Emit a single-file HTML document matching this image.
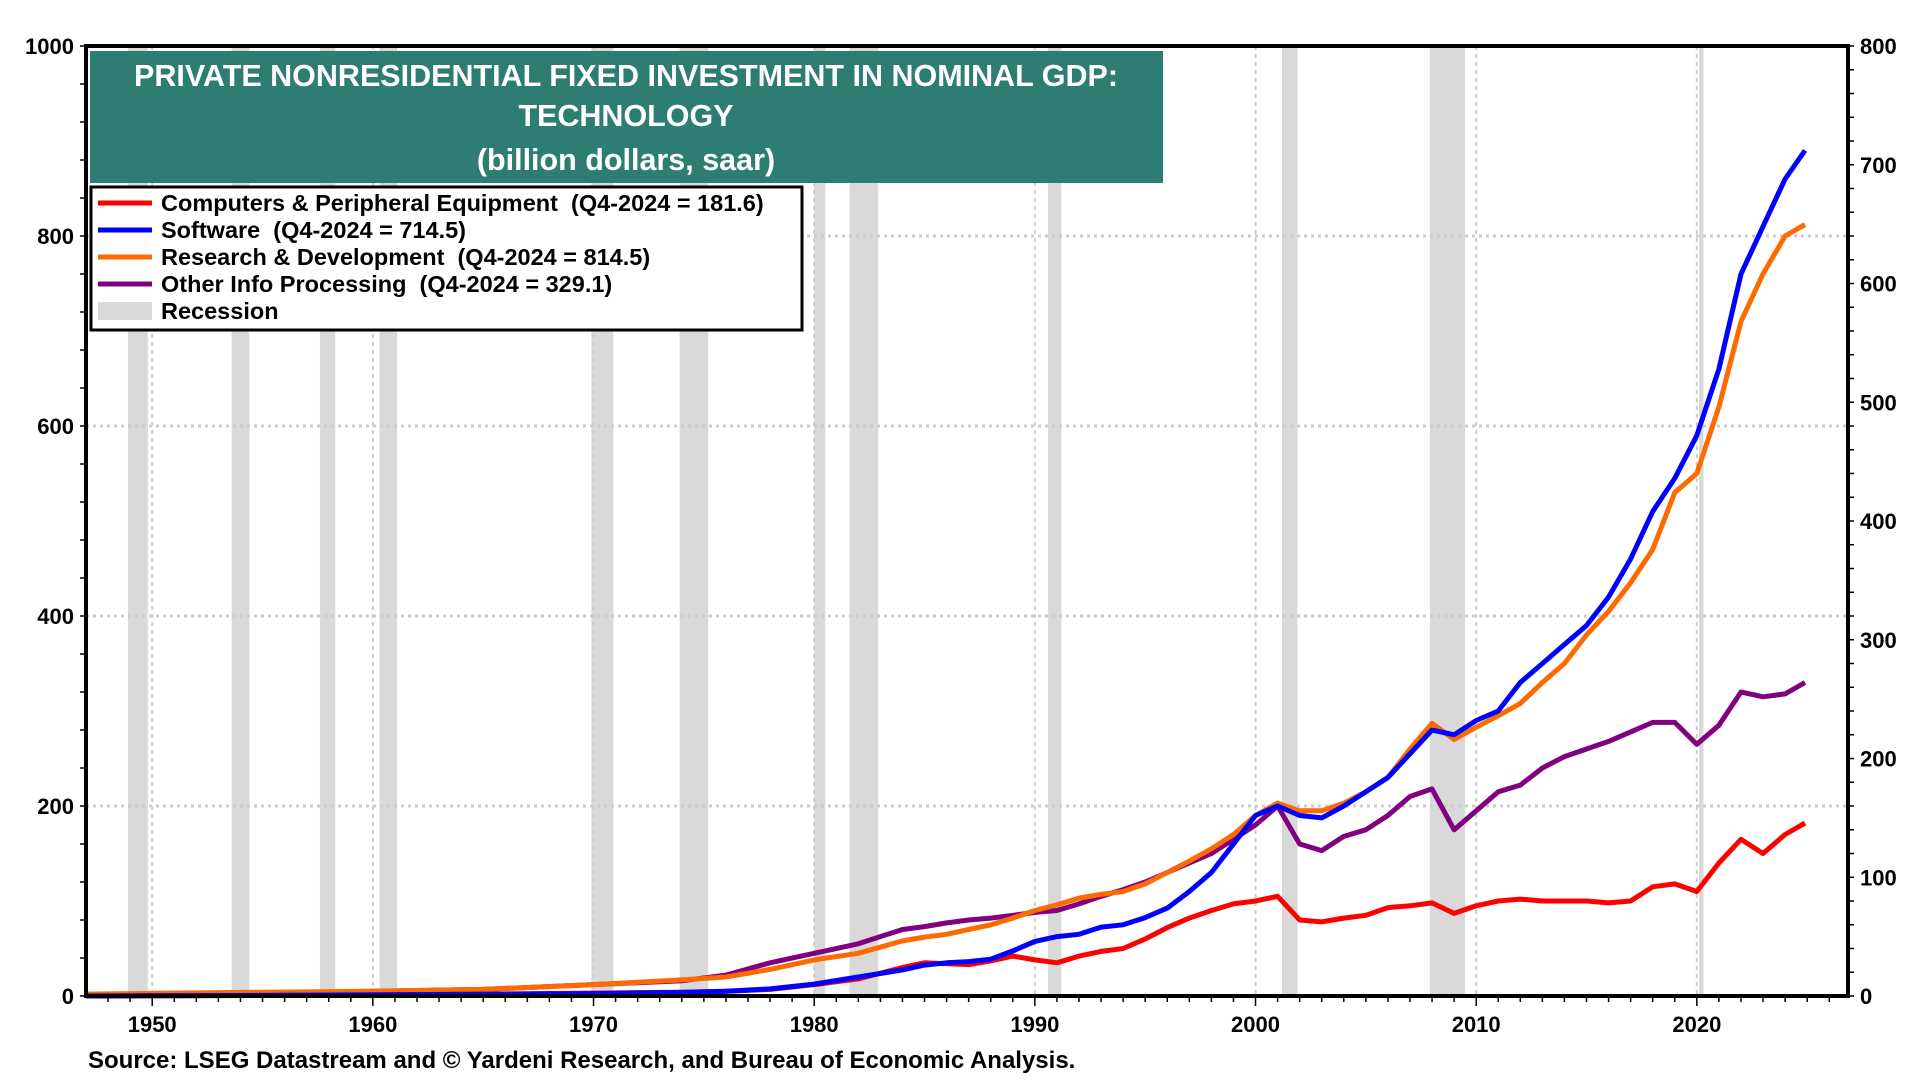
<!DOCTYPE html>
<html><head><meta charset="utf-8">
<style>
html,body{margin:0;padding:0;background:#fff;}
svg{display:block;font-family:"Liberation Sans",Arial,sans-serif;font-weight:bold;}
</style></head>
<body>
<svg id="chart" width="1920" height="1080" viewBox="0 0 1920 1080">
<g id="rec"></g>
<g id="grid"></g>
<g id="series"></g>
<g id="axes"></g>
<g>
<rect x="90" y="51" width="1073" height="132" fill="#2e7d72"/>
<text x="626" y="86" text-anchor="middle" fill="#fff" font-size="30.5">PRIVATE NONRESIDENTIAL FIXED INVESTMENT IN NOMINAL GDP:</text>
<text x="626" y="126" text-anchor="middle" fill="#fff" font-size="30.5">TECHNOLOGY</text>
<text x="626" y="170" text-anchor="middle" fill="#fff" font-size="30.5">(billion dollars, saar)</text>
</g>
<g>
<rect x="91" y="187" width="711" height="143" fill="#fff" stroke="#000" stroke-width="3"/>
<line x1="98" x2="152" y1="203" y2="203" stroke="#ff0000" stroke-width="5"/>
<text x="161" y="211" font-size="23.5">Computers &amp; Peripheral Equipment&#160;&#160;(Q4-2024 = 181.6)</text>
<line x1="98" x2="152" y1="230" y2="230" stroke="#0000ff" stroke-width="5"/>
<text x="161" y="238" font-size="23.5">Software&#160;&#160;(Q4-2024 = 714.5)</text>
<line x1="98" x2="152" y1="257" y2="257" stroke="#ff6a00" stroke-width="5"/>
<text x="161" y="265" font-size="23.5">Research &amp; Development&#160;&#160;(Q4-2024 = 814.5)</text>
<line x1="98" x2="152" y1="284" y2="284" stroke="#800080" stroke-width="5"/>
<text x="161" y="292" font-size="23.5">Other Info Processing&#160;&#160;(Q4-2024 = 329.1)</text>
<rect x="98" y="302" width="54" height="18" fill="#d9d9d9"/>
<text x="161" y="319" font-size="23.5">Recession</text>
</g>
<text x="88" y="1068" font-size="24">Source: LSEG Datastream and © Yardeni Research, and Bureau of Economic Analysis.</text>
</svg>
<script>
const years=[1947,1955,1960,1965,1970,1974,1976,1978,1980,1982,1984,1985,1986,1987,1988,1989,1990,1991,1992,1993,1994,1995,1996,1997,1998,1999,2000,2001,2002,2003,2004,2005,2006,2007,2008,2009,2010,2011,2012,2013,2014,2015,2016,2017,2018,2019,2020,2021,2022,2023,2024,2024.9];
const computers=[0,0.5,1,2,3,4,5,7,12,18,30,35,34,33,37,42,38,35,42,47,50,60,72,82,90,97,100,105,80,78,82,85,93,95,98,87,95,100,102,100,100,100,98,100,115,118,110,140,165,150,170,182];
const software=[0,0.5,1,1.5,2,3,4,6,10,16,22,26,28,29,31,38,46,50,52,58,60,66,74,88,104,128,152,160,152,150,160,172,184,204,224,220,232,240,264,280,296,312,336,368,408,436,472,528,608,648,688,712];
const rnd=[2,4,5,7,12,17,20,28,38,45,58,62,65,70,75,82,90,96,103,107,110,118,130,142,155,170,190,203,195,195,203,215,230,260,287,270,283,295,308,330,350,380,405,435,470,530,550,620,710,760,800,812];
const other=[1,3,5,7,12,16,22,35,45,55,70,73,77,80,82,85,88,90,97,105,112,120,130,140,150,165,180,200,160,153,168,175,190,210,218,175,195,215,222,240,252,260,268,278,288,288,265,285,320,315,318,330];
const recessions=[[1948.9,1949.8],[1953.6,1954.4],[1957.6,1958.3],[1960.3,1961.1],[1969.9,1970.9],[1973.9,1975.2],[1980.0,1980.5],[1981.6,1982.9],[1990.6,1991.2],[2001.2,2001.9],[2007.9,2009.5],[2020.1,2020.3]];
const leftTicks=[0,200,400,600,800,1000];
const rightTicks=[0,100,200,300,400,500,600,700,800];
const yearTicks=[1950,1960,1970,1980,1990,2000,2010,2020];

const NS="http://www.w3.org/2000/svg";
const X0=86,X1=1848,Y0=996,Y1=46,YR0=1947.0,YR1=2026.85;
function xs(y){return X0+(y-YR0)/(YR1-YR0)*(X1-X0);}
function yl(v){return Y0-v/1000*(Y0-Y1);}
function yr(v){return Y0-v/800*(Y0-Y1);}
function mk(tag,attrs,parent){const e=document.createElementNS(NS,tag);for(const k in attrs)e.setAttribute(k,attrs[k]);parent.appendChild(e);return e;}
const rec=document.getElementById('rec'),grid=document.getElementById('grid'),ser=document.getElementById('series'),ax=document.getElementById('axes');
recessions.forEach(r=>{const e=mk('rect',{x:xs(r[0]),y:Y1,width:xs(r[1])-xs(r[0]),height:Y0-Y1,fill:'#d9d9d9'},rec);

});
leftTicks.forEach(v=>{if(v>0&&v<1000){const e=mk('line',{x1:X0,x2:X1,y1:yl(v),y2:yl(v),stroke:'#cccccc','stroke-width':3,'stroke-dasharray':'3 4'},grid);

}});
yearTicks.forEach(y=>{const e=mk('line',{x1:xs(y),x2:xs(y),y1:Y1,y2:Y0,stroke:'#cccccc','stroke-width':2,'stroke-dasharray':'4 4'},grid);

});
function line(arr,scale,color,name){const d=arr.map((v,i)=>(i?'L':'M')+xs(years[i]).toFixed(1)+','+scale(v).toFixed(1)).join('');
const e=mk('path',{d:d,fill:'none',stroke:color,'stroke-width':5,'stroke-linejoin':'round'},ser);

}
line(other,yl,'#800080','line-other-info');
line(rnd,yl,'#ff6a00','line-rnd');
line(computers,yl,'#ff0000','line-computers');
line(software,yr,'#0000ff','line-software');
const fr=mk('path',{d:`M${X0},${Y1}H${X1}V${Y0}H${X0}Z`,fill:'none',stroke:'#000','stroke-width':4},ax);


for(let v=0;v<=1000;v+=40){mk('line',{x1:X0-6,x2:X0,y1:yl(v),y2:yl(v),stroke:'#000','stroke-width':1.5},ax);}
for(let v=0;v<=800;v+=20){mk('line',{x1:X1,x2:X1+6,y1:yr(v),y2:yr(v),stroke:'#000','stroke-width':1.5},ax);}
for(let y=1948;y<=2026;y++){mk('line',{x1:xs(y),x2:xs(y),y1:Y0,y2:Y0+(y%10==0?10:6),stroke:'#000','stroke-width':1.5},ax);}
leftTicks.forEach(v=>{const t=mk('text',{x:X0-12,y:yl(v)+8,'text-anchor':'end','font-size':22},ax);t.textContent=v;

});
rightTicks.forEach(v=>{const t=mk('text',{x:X1+12,y:yr(v)+8,'text-anchor':'start','font-size':22},ax);t.textContent=v;

});
yearTicks.forEach(y=>{const t=mk('text',{x:xs(y),y:1032,'text-anchor':'middle','font-size':22},ax);t.textContent=y;

});
</script>
</body></html>
